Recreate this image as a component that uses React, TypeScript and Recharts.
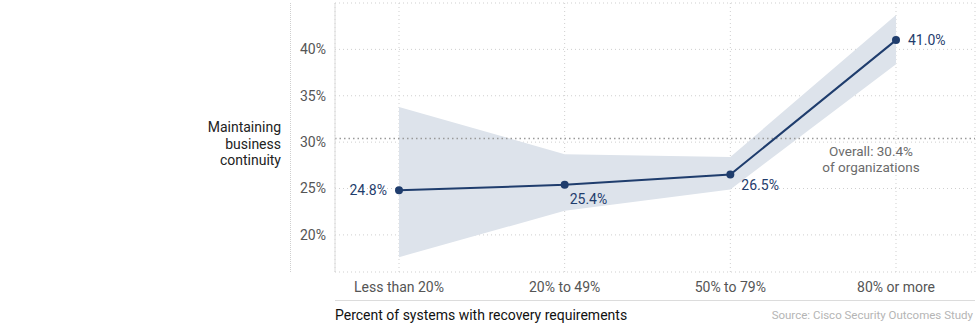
import React from "react";
import {
  ComposedChart,
  Area,
  Line,
  XAxis,
  YAxis,
  CartesianGrid,
  ReferenceLine,
  LabelList,
} from "recharts";

const categories = ["Less than 20%", "20% to 49%", "50% to 79%", "80% or more"];
const values = [24.8, 25.4, 26.5, 41.0];
const lowerBound = [17.6, 22.6, 24.9, 38.4];
const upperBound = [33.8, 28.7, 28.4, 43.7];
const yTicks = [20, 25, 30, 35, 40];
const overall = 30.4;

const data = categories.map((c, i) => ({
  name: c,
  value: values[i],
  band: [lowerBound[i], upperBound[i]],
}));

const NAVY = "#1f3d6d";
const FONT = "Roboto, 'Liberation Sans', Arial, sans-serif";

const labelOffsets = [
  { dx: -12, dy: 0, anchor: "end" },
  { dx: 5, dy: 14, anchor: "start" },
  { dx: 11, dy: 10, anchor: "start" },
  { dx: 12, dy: 0, anchor: "start" },
];

const PointLabel = (props: any) => {
  const { x, y, index, value } = props;
  const o = labelOffsets[index] || labelOffsets[3];
  return (
    <text
      x={x + o.dx}
      y={y + o.dy}
      textAnchor={o.anchor}
      dominantBaseline="central"
      fill={NAVY}
      fontSize={14}
      fontFamily={FONT}
    >
      {Number(value).toFixed(1)}%
    </text>
  );
};

const OverallLabel = (props: any) => {
  const vb = props.viewBox || {};
  const cx = vb.x + vb.width - 104;
  const y = vb.y;
  return (
    <g>
      <text x={cx} y={y + 13} textAnchor="middle" dominantBaseline="central" fill="#6b6b6b" fontSize={13.5} fontFamily={FONT}>
        {`Overall: ${overall}%`}
      </text>
      <text x={cx} y={y + 29} textAnchor="middle" dominantBaseline="central" fill="#6b6b6b" fontSize={13.5} fontFamily={FONT}>
        of organizations
      </text>
    </g>
  );
};

export default function App() {
  return (
    <div style={{ position: "absolute", left: 0, top: 0, width: 979, height: 325, background: "#fff", fontFamily: FONT }}>
      <ComposedChart
        width={979}
        height={325}
        data={data}
        margin={{ top: 3, right: 4, left: 0, bottom: 0 }}
      >
        <CartesianGrid stroke="#cfcfcf" strokeDasharray="1 3" />
        <XAxis
          dataKey="name"
          scale="point"
          padding={{ left: 64, right: 79 }}
          axisLine={false}
          tickLine={false}
          height={53}
          tickMargin={4}
          tick={{ fill: "#555", fontSize: 14, fontFamily: FONT }}
        />
        <YAxis
          type="number"
          domain={[16, 45]}
          ticks={yTicks}
          width={335}
          axisLine={{ stroke: "#dcdcdc" }}
          tickLine={false}
          tickSize={6}
          tickMargin={3}
          tickFormatter={(v: number) => `${v}%`}
          tick={{ fill: "#555", fontSize: 14, fontFamily: FONT }}
        />
        <Area
          dataKey="band"
          type="linear"
          fill="#dde3eb"
          fillOpacity={1}
          stroke="none"
          isAnimationActive={false}
          activeDot={false}
        />
        <ReferenceLine
          y={overall}
          stroke="#9a9a9a"
          strokeWidth={1.5}
          strokeDasharray="1.5 3"
          label={<OverallLabel />}
        />
        <Line
          dataKey="value"
          type="linear"
          stroke={NAVY}
          strokeWidth={2}
          dot={{ r: 4, fill: NAVY, stroke: NAVY, strokeWidth: 0 }}
          activeDot={false}
          isAnimationActive={false}
        >
          <LabelList dataKey="value" content={<PointLabel />} />
        </Line>
      </ComposedChart>
      <div style={{ position: "absolute", left: 290, top: 3, width: 0, height: 269, borderLeft: "1px dotted #cfcfcf" }} />
      <div style={{ position: "absolute", left: 335, top: 300, width: 640, height: 0, borderTop: "1px solid #dcdcdc" }} />
      <div
        style={{
          position: "absolute",
          right: 979 - 281,
          top: 119,
          textAlign: "right",
          fontSize: 14,
          lineHeight: "16.5px",
          color: "#222",
          whiteSpace: "nowrap",
        }}
      >
        Maintaining
        <br />
        business
        <br />
        continuity
      </div>
      <div style={{ position: "absolute", left: 335, top: 306, fontSize: 14, color: "#111", whiteSpace: "nowrap", lineHeight: "18px" }}>
        Percent of systems with recovery requirements
      </div>
      <div style={{ position: "absolute", right: 6, top: 307, fontSize: 11.5, color: "#b5b5b5", whiteSpace: "nowrap", lineHeight: "16px" }}>
        Source: Cisco Security Outcomes Study
      </div>
    </div>
  );
}
